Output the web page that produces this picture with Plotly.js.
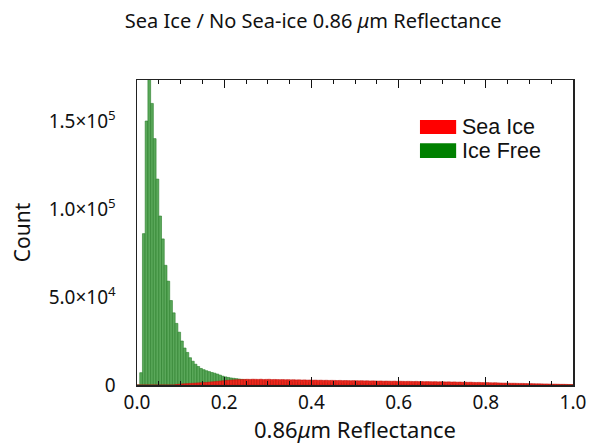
<!DOCTYPE html>
<html>
<head>
<meta charset="utf-8">
<script src="https://cdn.plot.ly/plotly-3.0.1.min.js"></script>
<style>html,body{margin:0;padding:0;background:#fff;}#chart{width:591px;height:444px;}</style>
</head>
<body>
<div id="chart"></div>
<script>
// Histogram bin width (reflectance units)
const binWidth = 0.00625;

// Ice Free counts per bin
const iceFree = [
  0,7000,86000,150000,176000,160000,140000,117000,96000,83000,
  68000,59000,48000,41000,35000,30000,25000,21000,18500,15500,
  13500,11800,10500,9400,8700,8100,7600,7100,6700,6200,
  5600,5000,4600,4300,4000,3800,3600,3400,3200,3000,
  2800,2700,2650,2550,2500,2400,2350,2250,2200,2100,
  2050,1950,1900,1800,1750,1700,1650,1600,1550,1500,
  1450,1400,1380,1350,1320,1300,1270,1250,1220,1200,
  1170,1150,1120,1100,1070,1050,1020,1000,980,950,
  930,900,880,860,840,820,800,780,760,740,
  720,700,680,660,640,620,600,580,560,540,
  520,500,490,480,470,460,450,440,430,420,
  410,400,390,380,370,360,350,340,330,320,
  310,300,290,280,270,260,250,240,230,220,
  210,200,190,180,170,160,150,140,130,120,
  110,100,95,90,85,80,75,70,65,60,
  55,50,45,40,35,30,25,20,15,10
];

// Sea Ice counts per bin
const seaIce = [
  0,0,0,0,0,0,0,0,0,0,
  0,0,0,0,300,450,600,700,800,900,
  1000,1100,1200,1300,1400,1500,1650,1800,1950,2100,
  2250,2400,2550,2700,2800,2900,3000,3050,3150,3200,
  3250,3200,3300,3250,3200,3300,3150,3200,3250,3100,
  3150,3100,3050,3100,3000,3050,2950,3000,2900,2950,
  2850,2900,2800,2850,2750,2800,2700,2750,2650,2700,
  2600,2650,2600,2550,2600,2500,2550,2500,2450,2500,
  2450,2400,2450,2350,2400,2300,2350,2300,2250,2300,
  2200,2250,2200,2150,2200,2100,2150,2100,2050,2100,
  2050,2000,2050,1950,2000,1900,1950,1900,1850,1900,
  1800,1850,1800,1750,1800,1700,1750,1650,1700,1600,
  1650,1550,1600,1500,1450,1500,1400,1350,1400,1300,
  1250,1300,1200,1150,1100,1100,1050,1000,1000,950,
  900,900,850,800,800,750,700,700,650,600,
  600,550,500,500,450,400,400,350,300,250
];

// Series names and colours (legend order)
const seriesNames = ["Sea Ice", "Ice Free"];
const legendColors = ["#ff0000", "#008000"];

// Axis tick values and labels
const xTickVals = [0, 0.2, 0.4, 0.6, 0.8, 1.0];
const xTickText = ["0.0", "0.2", "0.4", "0.6", "0.8", "1.0"];
const yTickVals = [0, 50000, 100000, 150000];
const yTickText = ["0", "5.0×10<sup>4</sup>", "1.0×10<sup>5</sup>", "1.5×10<sup>5</sup>"];

const binCenters = iceFree.map((_, i) => (i + 0.5) * binWidth);

const traces = [
  {
    type: 'bar', name: seriesNames[1], x: binCenters, y: iceFree, width: binWidth, showlegend: false,
    marker: {color: 'rgb(90,168,90)', line: {color: 'rgb(40,125,40)', width: 0.6}}
  },
  {
    type: 'bar', name: seriesNames[0], x: binCenters, y: seaIce, width: binWidth, showlegend: false,
    marker: {color: 'rgb(238,40,30)', line: {color: 'rgb(190,20,15)', width: 0.5}}
  }
];

const tickFont = {family: 'Noto Sans, sans-serif', size: 19, color: '#111'};
const yTitleFont = {family: 'Noto Sans, sans-serif', size: 21, color: '#111'};
const xTitleFont = {family: 'Noto Sans, sans-serif', size: 22, color: '#111'};

// Legend drawn as wide swatches + labels (paper coordinates)
const legendRows = [
  {y0: 0.823, y1: 0.869, ty: 0.846},
  {y0: 0.744, y1: 0.793, ty: 0.768}
];
const shapes = legendRows.map((r, i) => ({
  type: 'rect', xref: 'paper', yref: 'paper', x0: 0.649, x1: 0.732, y0: r.y0, y1: r.y1,
  fillcolor: legendColors[i], line: {width: 0}
}));
const annotations = legendRows.map((r, i) => ({
  xref: 'paper', yref: 'paper', x: 0.741, y: r.ty, xanchor: 'left', yanchor: 'middle',
  text: seriesNames[i], showarrow: false,
  font: {family: 'Liberation Sans, Arial, sans-serif', size: 21.5, color: '#111'}
}));

const layout = {
  width: 591, height: 444,
  margin: {l: 137, r: 18, t: 80, b: 59},
  paper_bgcolor: '#fff', plot_bgcolor: '#fff',
  barmode: 'overlay', bargap: 0,
  title: {
    text: 'Sea Ice / No Sea-ice 0.86 <i>μ</i>m Reflectance',
    font: {family: 'Noto Sans, sans-serif', size: 20, color: '#111'},
    x: 0.53, xref: 'container', xanchor: 'center',
    y: 0.953, yref: 'container', yanchor: 'middle'
  },
  xaxis: {
    range: [0, 1.0], tickvals: xTickVals, ticktext: xTickText,
    ticks: 'inside', ticklen: 8, tickwidth: 1.2, tickcolor: '#111',
    minor: {dtick: 0.05, ticks: 'inside', ticklen: 4, tickwidth: 1, tickcolor: '#111', showgrid: false},
    showline: true, linecolor: '#222', linewidth: 1.5, mirror: 'ticks',
    showgrid: false, zeroline: false, tickfont: tickFont,
    title: {text: '0.86<i>μ</i>m Reflectance', font: xTitleFont, standoff: 0}
  },
  yaxis: {
    range: [0, 173300], tickvals: yTickVals, ticktext: yTickText,
    ticks: '', showline: true, linecolor: '#222', linewidth: 1.5, mirror: true,
    showgrid: false, zeroline: false, tickfont: tickFont, ticklabelstandoff: 16,
    title: {text: 'Count', font: yTitleFont, standoff: 12}
  },
  shapes: shapes,
  annotations: annotations,
  showlegend: false
};

Plotly.newPlot('chart', traces, layout, {displayModeBar: false, staticPlot: true});
</script>
</body>
</html>
